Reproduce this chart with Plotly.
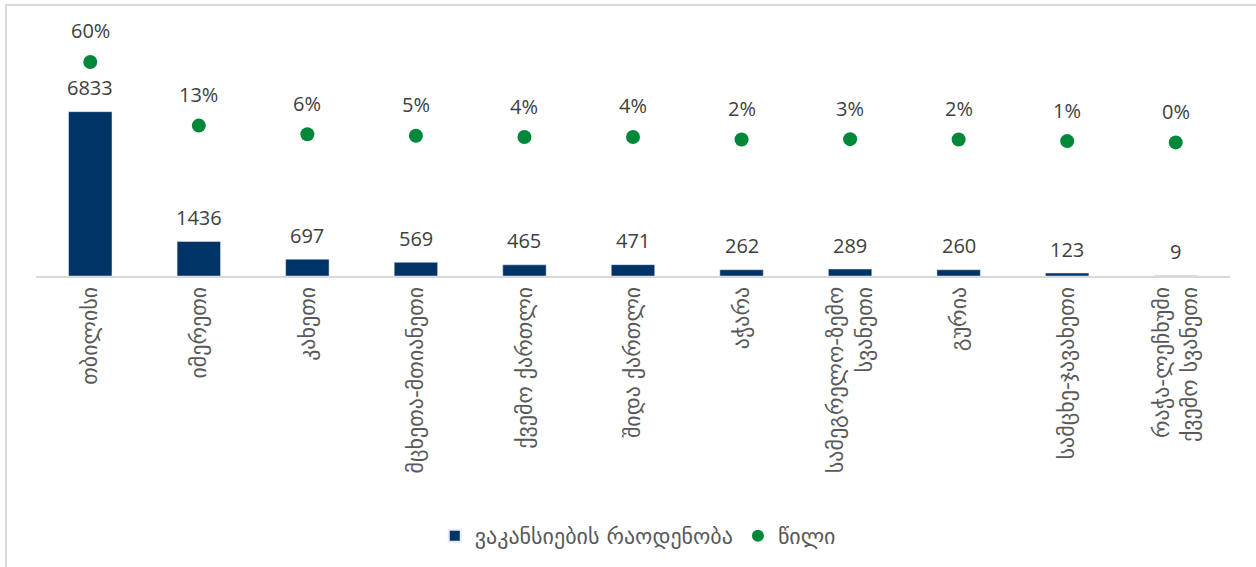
import plotly.graph_objects as go

regions = [
    "თბილისი", "იმერეთი", "კახეთი", "მცხეთა-მთიანეთი", "ქვემო ქართლი",
    "შიდა ქართლი", "აჭარა", "სამეგრელო-ზემო<br>სვანეთი", "გურია",
    "სამცხე-ჯავახეთი", "რაჭა-ლეჩხუმი<br>ქვემო სვანეთი",
]
vacancies = [6833, 1436, 697, 569, 465, 471, 262, 289, 260, 123, 9]
share = [0.5987, 0.1258, 0.0611, 0.0499, 0.0407, 0.0413, 0.0230, 0.0253, 0.0228, 0.0108, 0.0008]

NAVY = "#003366"
GREEN = "#00883A"
TXT = "#404040"
FONT = "DejaVu Sans, Noto Sans, sans-serif"

fig = go.Figure()

fig.add_trace(go.Bar(
    x=regions, y=vacancies, name="ვაკანსიების რაოდენობა",
    marker=dict(color=NAVY), yaxis="y",
))
fig.add_trace(go.Scatter(
    x=regions, y=share, name="წილი", mode="markers",
    marker=dict(color=GREEN, size=14), yaxis="y2",
))

# value labels
for r, v in zip(regions, vacancies):
    fig.add_annotation(x=r, y=v, yref="y", text=str(v), showarrow=False,
                       yanchor="middle", yshift=24,
                       font=dict(size=20, color=TXT, family="Open Sans, sans-serif"))
for r, s in zip(regions, share):
    fig.add_annotation(x=r, y=s, yref="y2", text=f"{s:.0%}", showarrow=False,
                       yanchor="middle", yshift=31,
                       font=dict(size=20, color=TXT, family="Open Sans, sans-serif"))

# light frame around the chart
fig.add_shape(type="rect", xref="paper", yref="paper",
              x0=-30 / 1194, x1=1.03, y0=-1.1, y1=1 + 5 / 266,
              line=dict(color="#D9D9D9", width=2), layer="below")

fig.update_layout(
    width=1256, height=567,
    margin=dict(l=36, r=26, t=10, b=291, autoexpand=False),
    plot_bgcolor="white", paper_bgcolor="white",
    bargap=0.6,
    font=dict(family=FONT, color="#595959"),
    showlegend=True,
    legend=dict(orientation="h", x=0.504, xanchor="center", y=-0.977, yanchor="middle",
                font=dict(size=22, color="#595959"), itemsizing="constant",
                traceorder="normal"),
    xaxis=dict(showline=True, linecolor="#D9D9D9", linewidth=2, tickangle=-90,
               range=[-0.5, len(regions) - 0.5],
               ticks="", tickfont=dict(size=22, color="#595959", family=FONT),
               showgrid=False, automargin=False),
    yaxis=dict(range=[0, 11060], visible=False, showgrid=False, automargin=False),
    yaxis2=dict(range=[-0.992, 0.985], overlaying="y", side="right",
                visible=False, showgrid=False, automargin=False),
)

fig.write_html("out.html", config={"displayModeBar": False},
               post_script="document.body.style.margin='0';")
